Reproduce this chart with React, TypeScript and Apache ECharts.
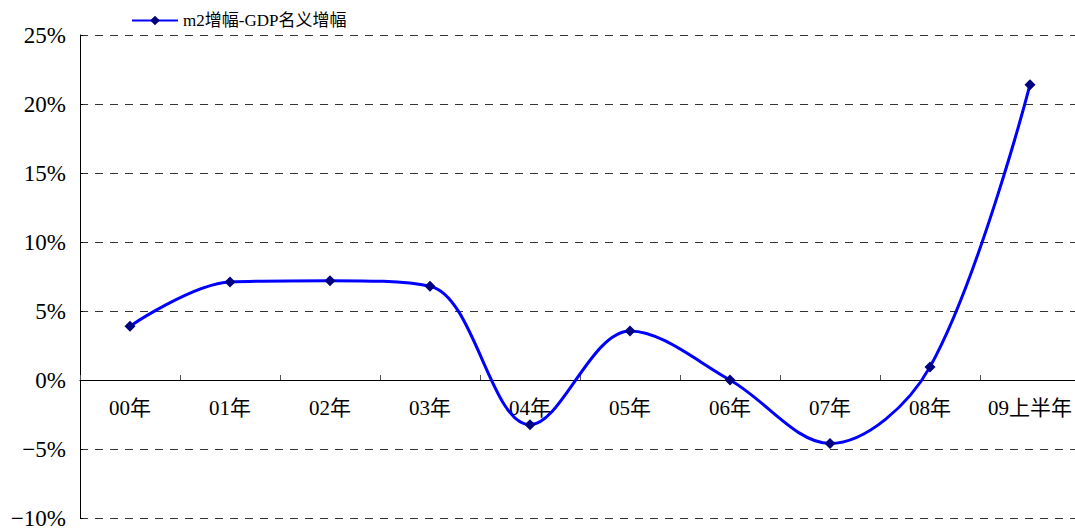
import React, { useEffect, useRef } from "react";
import * as echarts from "echarts";

// Year categories along the x axis
const categories = ["00年", "01年", "02年", "03年", "04年", "05年", "06年", "07年", "08年", "09上半年"];
// M2 growth minus nominal GDP growth, in percent
const spreadValues = [3.9, 7.1, 7.2, 6.8, -3.25, 3.55, 0.0, -4.6, 0.95, 21.4];
const seriesName = "m2增幅-GDP名义增幅";

const Y_MIN = -10;
const Y_MAX = 25;
const GRID_TOP = 35;
const GRID_BOTTOM = 13;
const CHART_H = 531;

const FONT = "'Liberation Serif', 'Noto Sans CJK SC', serif";

export default function App() {
  const ref = useRef<HTMLDivElement>(null);

  useEffect(() => {
    if (!ref.current) return;
    const chart = echarts.init(ref.current, undefined, { renderer: "svg" });
    // Lift the category axis (line, ticks and labels) up to the zero line
    const plotH = CHART_H - GRID_TOP - GRID_BOTTOM;
    const zeroLift = (plotH * (0 - Y_MIN)) / (Y_MAX - Y_MIN);
    chart.setOption({
      animation: false,
      backgroundColor: "#ffffff",
      legend: {
        left: 126,
        top: 7,
        itemWidth: 46,
        itemHeight: 12,
        itemGap: 10,
        textStyle: { fontFamily: FONT, fontSize: 17, color: "#000" },
        data: [seriesName],
      },
      grid: {
        left: 80,
        right: -5,
        top: GRID_TOP,
        bottom: GRID_BOTTOM,
        containLabel: false,
        outerBoundsMode: "none",
      },
      xAxis: {
        type: "category",
        data: categories,
        boundaryGap: true,
        offset: -zeroLift,
        axisLine: { onZero: false, lineStyle: { color: "#000", width: 1 } },
        axisTick: { show: true, inside: true, length: 5, lineStyle: { color: "#555" } },
        axisLabel: { fontFamily: FONT, fontSize: 21, color: "#000", margin: 17, interval: 0 },
        splitLine: { show: false },
      },
      yAxis: {
        type: "value",
        min: Y_MIN,
        max: Y_MAX,
        interval: 5,
        axisLine: { show: true, lineStyle: { color: "#000", width: 1 } },
        axisTick: { show: true, inside: true, length: 3, lineStyle: { color: "#000" } },
        axisLabel: {
          fontFamily: FONT,
          fontSize: 23,
          color: "#000",
          margin: 14,
          formatter: (v: number) => (v < 0 ? "\u2212" : "") + Math.abs(v) + "%",
        },
        splitLine: { show: true, lineStyle: { color: "#333", width: 1, type: [8, 7] } },
      },
      series: [
        {
          name: seriesName,
          type: "line",
          data: spreadValues,
          smooth: 0.35,
          symbol: "diamond",
          symbolSize: 11,
          lineStyle: { color: "#0000ff", width: 3 },
          itemStyle: { color: "#000080" },
          z: 5,
        },
      ],
    });
    return () => chart.dispose();
  }, []);

  return (
    <div
      ref={ref}
      style={{ position: "fixed", left: 0, top: 0, width: 1075, height: CHART_H }}
    />
  );
}
